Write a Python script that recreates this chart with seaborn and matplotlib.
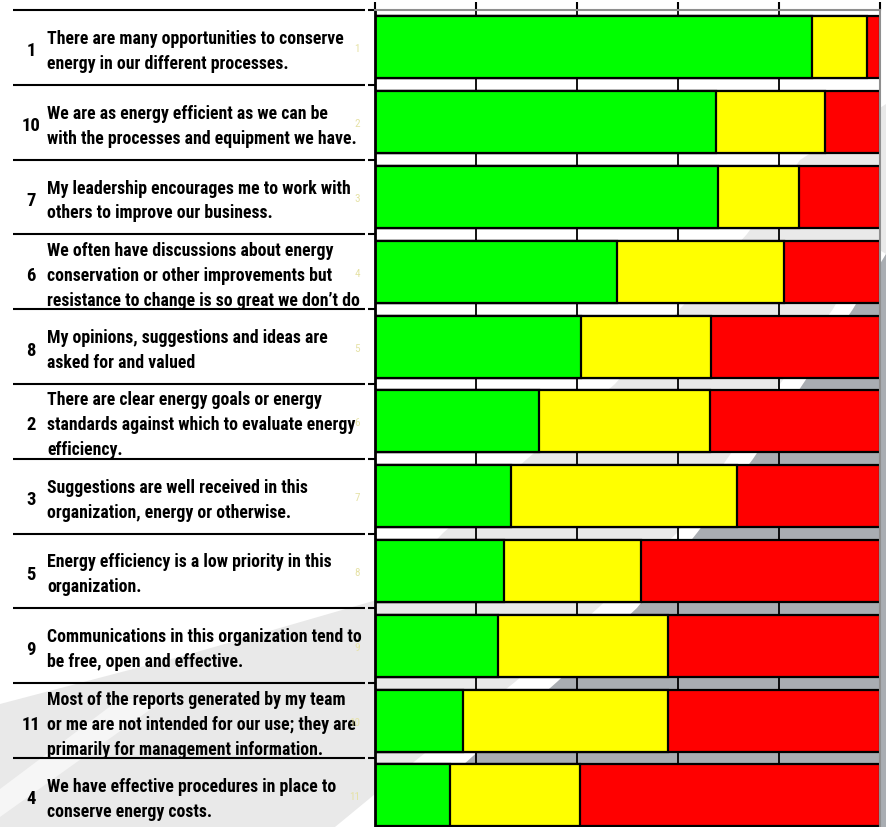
import numpy as np
import pandas as pd
import matplotlib
matplotlib.use("Agg")
import matplotlib.pyplot as plt
from matplotlib import font_manager as fm
from matplotlib.patches import Polygon
import seaborn as sns

# ---------------- data ----------------
positions = ["1", "2", "3", "4", "5", "6", "7", "8", "9", "10", "11"]
question_ids = ["1", "10", "7", "6", "8", "2", "3", "5", "9", "11", "4"]
statements = [
    "There are many opportunities to conserve\nenergy in our different processes.",
    "We are as energy efficient as we can be\nwith the processes and equipment we have.",
    "My leadership encourages me to work with\nothers to improve our business.",
    "We often have discussions about energy\nconservation or other improvements but\nresistance to change is so great we don\u2019t do",
    "My opinions, suggestions and ideas are\nasked for and valued",
    "There are clear energy goals or energy\nstandards against which to evaluate energy\nefficiency.",
    "Suggestions are well received in this\norganization, energy or otherwise.",
    "Energy efficiency is a low priority in this\norganization.",
    "Communications in this organization tend to\nbe free, open and effective.",
    "Most of the reports generated by my team\nor me are not intended for our use; they are\nprimarily for management information.",
    "We have effective procedures in place to\nconserve energy costs.",
]
green = [86.6, 67.6, 67.9, 48.0, 40.7, 32.4, 27.0, 25.6, 24.3, 17.5, 14.9]
yellow = [10.8, 21.6, 16.0, 33.0, 25.8, 33.9, 44.6, 27.1, 33.8, 40.6, 25.6]
red = [2.6, 10.8, 16.1, 19.0, 33.5, 33.7, 28.4, 47.3, 41.9, 41.9, 59.5]
x_ticks = [0, 20, 40, 60, 80, 100]

df = pd.DataFrame({"pos": positions, "green": green, "yellow": yellow, "red": red})
df["cum_yellow"] = df["green"] + df["yellow"]
df["cum_red"] = df["cum_yellow"] + df["red"]

# ---------------- figure ----------------
W, H = 886, 828
DPI = 100
sns.set_theme(style="white")

available = {f.name for f in fm.fontManager.ttflist}
candidates = ["Liberation Sans Narrow", "Roboto Condensed", "Open Sans Condensed",
              "DejaVu Sans Condensed", "Arial Narrow", "Liberation Sans", "DejaVu Sans"]
FONT = [f for f in candidates if f in available] + ["DejaVu Sans"]
plt.rcParams["font.family"] = FONT

fig = plt.figure(figsize=(W / DPI, H / DPI), dpi=DPI)
fig.patch.set_facecolor("white")

# background (pixel coordinates)
bg = fig.add_axes([0, 0, 1, 1], zorder=-5)
bg.set_xlim(0, W)
bg.set_ylim(H, 0)
bg.axis("off")

light_pts = [(886, 105), (800, 161), (747, 235), (680, 310), (615, 385), (527, 460),
             (443, 534), (380, 600), (190, 655), (0, 705), (0, 828), (886, 828)]
bg.add_patch(Polygon(light_pts, closed=True, facecolor="#e9e9e9", edgecolor="none"))
hl_pts = [(870, 245), (833, 310), (780, 385), (727, 460), (677, 534), (598, 609),
          (515, 683), (420, 758), (335, 828), (395, 828), (472, 758), (557, 683),
          (637, 609), (697, 534), (753, 460), (803, 385), (853, 310), (886, 255)]
bg.add_patch(Polygon(hl_pts, closed=True, facecolor="white", edgecolor="none"))
bg.add_patch(Polygon([(0, 790), (120, 700), (165, 700), (0, 818)], closed=True,
                     facecolor="#f6f6f6", edgecolor="none"))
dark_pts = [(886, 255), (853, 310), (803, 385), (753, 460), (697, 534), (637, 609),
            (557, 683), (472, 758), (395, 828), (886, 828)]
bg.add_patch(Polygon(dark_pts, closed=True, facecolor="#a9adb2", edgecolor="none"))

# fit the statement font size so the first line spans ~296 px
renderer = fig.canvas.get_renderer()
probe = bg.text(0, 0, "There are many opportunities to conserve", fontsize=13,
                fontweight="bold", family=FONT)
wpx = probe.get_window_extent(renderer).width
probe.remove()
fs = 13 * 296.0 / wpx
fs_num = min(fs * 1.05, 13.5)

# table on the left
top_px = 11.0
row_px = 74.8
line_px = 25.0
for k in range(len(question_ids)):
    y = top_px + k * row_px
    bg.plot([13, 365], [y, y], color="black", lw=1.5, solid_capstyle="butt")
    yc = y + row_px / 2 + 1
    bg.text(31, yc, question_ids[k], ha="center", va="center_baseline",
            fontsize=fs_num, fontweight="bold", color="black", family=FONT)
    lines = statements[k].split("\n")
    n = len(lines)
    for i, ln in enumerate(lines):
        bg.text(47, yc + (i - (n - 1) / 2) * line_px, ln, ha="left",
                va="center_baseline", fontsize=fs, fontweight="bold",
                color="black", family=FONT)

# main chart axes
left_px, right_px = 375, 880
bottom_px = top_px + len(positions) * row_px
ax = fig.add_axes([left_px / W, 1 - bottom_px / H, (right_px - left_px) / W,
                   (bottom_px - top_px) / H])
ax.set_facecolor("none")

kw = dict(data=df, y="pos", orient="h", order=positions, edgecolor="black",
          linewidth=1.6, width=0.83, errorbar=None, saturation=1, ax=ax)
sns.barplot(x="cum_red", color="#ff0000", **kw)
sns.barplot(x="cum_yellow", color="#ffff00", **kw)
sns.barplot(x="green", color="#00ff00", **kw)

ax.set_xlim(0, 100)
ax.set_ylim(len(positions) - 0.5, -0.5)
ax.set_xlabel("")
ax.set_ylabel("")
ax.set_xticks(x_ticks)
ax.xaxis.tick_top()
ax.tick_params(axis="x", which="major", direction="out", length=6, width=1.5,
               color="black", labeltop=False, labelbottom=False, top=True, bottom=False)
ax.grid(axis="x", color="black", lw=1.3)
ax.grid(axis="y", visible=False)
ax.set_axisbelow(True)

ax.set_yticks(range(len(positions)))
ax.set_yticklabels(positions)
ax.set_yticks(np.arange(-0.5, len(positions) - 1, 1.0), minor=True)
ax.tick_params(axis="y", which="major", length=0, pad=11, labelsize=8,
               labelcolor="#e6e2a6", left=True)
ax.tick_params(axis="y", which="minor", direction="out", length=5, width=1.5,
               color="black", left=True)

for s in ["top", "right"]:
    ax.spines[s].set_color("#8f8f8f")
    ax.spines[s].set_linewidth(1.5)
ax.spines["left"].set_color("black")
ax.spines["left"].set_linewidth(2)
ax.spines["bottom"].set_visible(False)

fig.savefig("out.png", dpi=DPI, facecolor="white")
